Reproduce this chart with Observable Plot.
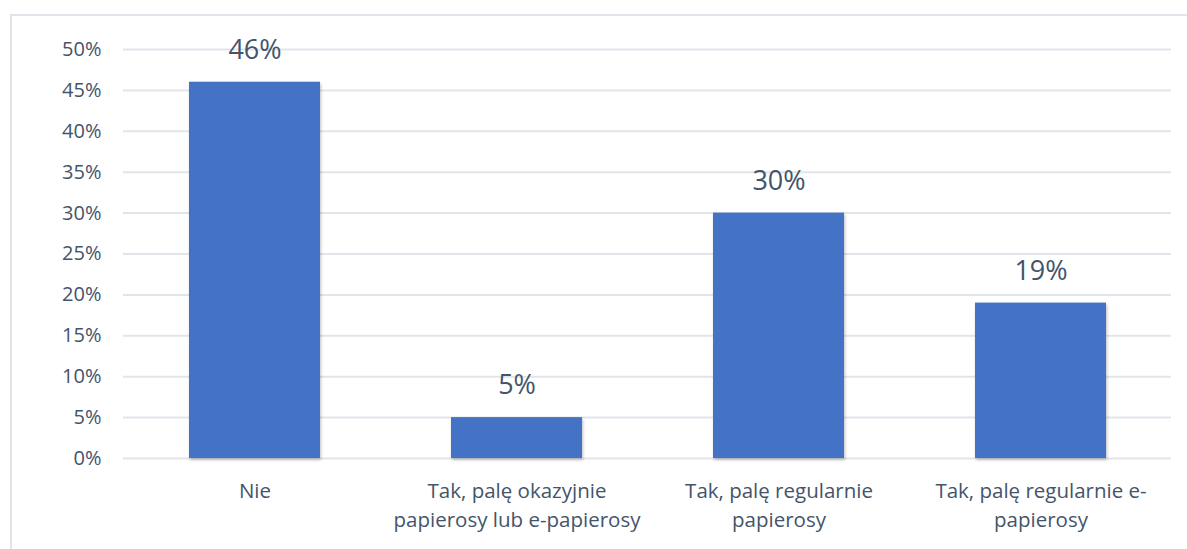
<!DOCTYPE html>
<html><head><meta charset="utf-8">
<script src="https://cdn.jsdelivr.net/npm/d3@7"></script>
<script src="https://cdn.jsdelivr.net/npm/@observablehq/plot@0.6"></script>
<style>
html,body{margin:0;padding:0;background:#fff;overflow:hidden;width:1187px;height:549px;}
#wrap{position:relative;width:1187px;height:549px;}
#border{position:absolute;left:10px;top:14px;width:1300px;height:700px;border:2px solid #E1E5EB;box-sizing:border-box;}
#chart{position:absolute;left:0;top:0;}
#chart svg .bars rect{filter:drop-shadow(1px 2px 1.5px rgba(0,0,0,0.25));}
</style>
</head><body>
<div id="wrap"><div id="border"></div><div id="chart"></div></div>
<script>
const categories = ["Nie", "Tak, palę okazyjnie papierosy lub e-papierosy", "Tak, palę regularnie papierosy", "Tak, palę regularnie e-papierosy"];
const tickLabels = ["Nie", "Tak, palę okazyjnie\npapierosy lub e-papierosy", "Tak, palę regularnie\npapierosy", "Tak, palę regularnie e-\npapierosy"];
const values = [46, 5, 30, 19];
const yTicks = [0, 5, 10, 15, 20, 25, 30, 35, 40, 45, 50];

const data = categories.map((c, i) => ({category: c, value: values[i]}));
const labelOf = new Map(categories.map((c, i) => [c, tickLabels[i]]));
const textColor = "#44546A";
const font = "'Open Sans', sans-serif";

const plot = Plot.plot({
  width: 1187,
  height: 549,
  marginLeft: 123,
  marginRight: 16,
  marginTop: 49,
  marginBottom: 91,
  style: {fontFamily: font, background: "transparent", color: textColor},
  x: {domain: categories, paddingInner: 0.5, paddingOuter: 0.25, label: null},
  y: {domain: [0, 50], label: null},
  marks: [
    Plot.ruleY(yTicks, {stroke: "#E1E5EB", strokeWidth: 2}),
    Plot.barY(data, {x: "category", y: "value", fill: "#4472C4", className: "bars"}),
    Plot.text(data, {x: "category", y: "value", text: d => d.value + "%", dy: -32, fontSize: 27, fill: textColor}),
    Plot.axisY({ticks: yTicks, tickFormat: d => d + "%", tickSize: 0, tickPadding: 22, fontSize: 20, fill: textColor}),
    Plot.axisX({tickFormat: d => labelOf.get(d), tickSize: 0, tickPadding: 19, fontSize: 20.5, fill: textColor, lineHeight: 1.42})
  ]
});
document.getElementById("chart").appendChild(plot);
</script>
</body></html>
